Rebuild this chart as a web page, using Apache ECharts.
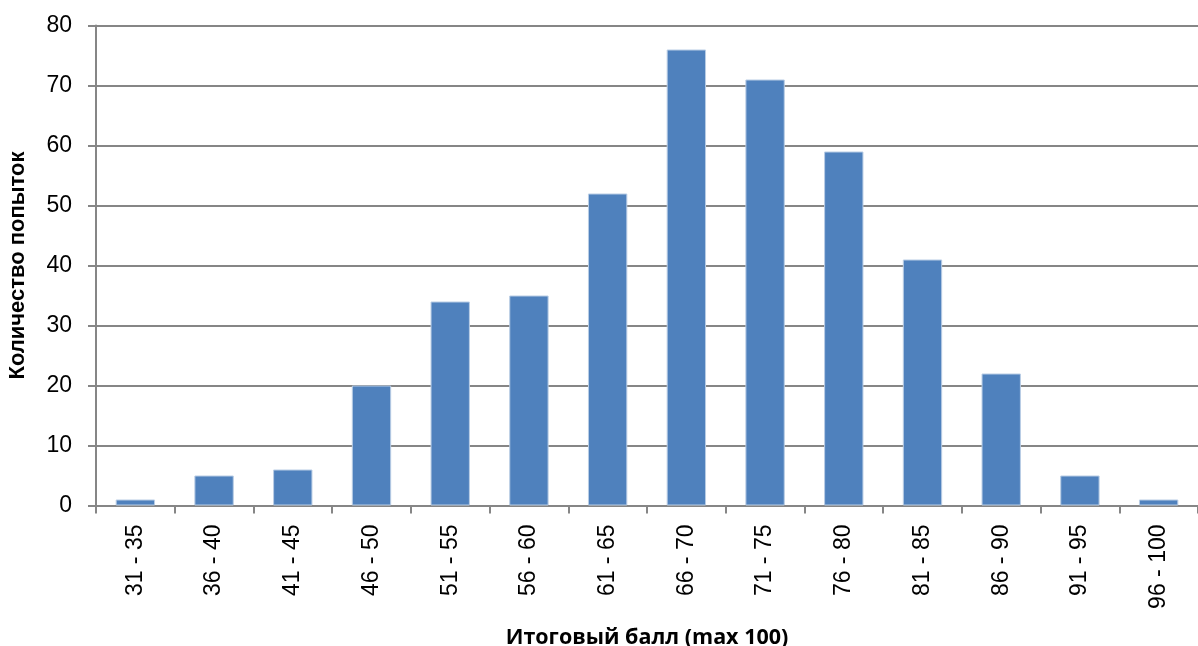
<!DOCTYPE html>
<html><head><meta charset="utf-8">
<script src="https://cdn.jsdelivr.net/npm/echarts@6/dist/echarts.min.js"></script>
<style>html,body{margin:0;padding:0;background:#fff}#c{width:1198px;height:646px}</style>
</head><body><div id="c"></div>
<script>
const categories = ['31 - 35','36 - 40','41 - 45','46 - 50','51 - 55','56 - 60','61 - 65','66 - 70','71 - 75','76 - 80','81 - 85','86 - 90','91 - 95','96 - 100'];
const counts = [1,5,6,20,34,35,52,76,71,59,41,22,5,1];
const yTicks = {min:0, max:80, interval:10};
const xTitle = 'Итоговый балл (max 100)';
const yTitle = 'Количество попыток';

const chart = echarts.init(document.getElementById('c'), null, {renderer:'canvas'});
const axisColor = '#868686';
chart.setOption({
  animation:false,
  grid:{left:96, right:0, top:25.5, bottom:140.5, outerBoundsMode:'none'},
  xAxis:{
    type:'category', data:categories,
    name:xTitle, nameLocation:'middle', nameGap:121,
    nameTextStyle:{fontFamily:'Open Sans', fontWeight:'bold', fontSize:21.5, color:'#000'},
    axisLine:{lineStyle:{color:axisColor, width:2}},
    axisTick:{show:true, length:8, lineStyle:{color:axisColor, width:2}, alignWithLabel:false},
    axisLabel:{rotate:90, margin:19, fontFamily:'Liberation Sans', fontSize:23, color:'#000', interval:0}
  },
  yAxis:{
    type:'value', min:yTicks.min, max:yTicks.max, interval:yTicks.interval,
    name:yTitle, nameLocation:'middle', nameGap:67, nameRotate:90,
    nameTextStyle:{fontFamily:'Liberation Sans', fontWeight:'bold', fontSize:22, color:'#000'},
    axisLine:{show:true, lineStyle:{color:axisColor, width:2}},
    axisTick:{show:true, length:8, lineStyle:{color:axisColor, width:2}},
    splitLine:{lineStyle:{color:axisColor, width:2}},
    axisLabel:{margin:24, fontFamily:'Liberation Sans', fontSize:23, color:'#000'}
  },
  series:[{
    type:'bar', data:counts, barCategoryGap:'50%',
    itemStyle:{color:'#4F81BD', borderColor:'#B9CDE5', borderWidth:1}
  }]
});
</script></body></html>
